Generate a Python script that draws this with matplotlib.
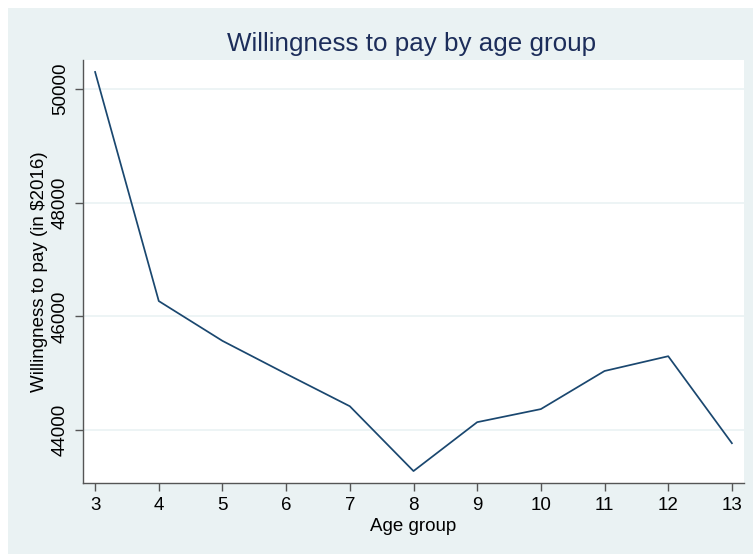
import matplotlib
matplotlib.use('Agg')
import matplotlib.pyplot as plt
from matplotlib.patches import Rectangle

# Willingness to pay (in $2016) by age group
age_groups = [3, 4, 5, 6, 7, 8, 9, 10, 11, 12, 13]
wtp = [50300, 46270, 45570, 44990, 44420, 43280, 44140, 44370, 45040, 45300, 43770]
y_ticks = [44000, 46000, 48000, 50000]

BG = '#EAF2F3'
LINE = '#1A476F'
TITLE = '#1C2D5A'
AXIS = '#555555'

plt.rcParams['font.family'] = ['Liberation Sans', 'DejaVu Sans']

W, H = 753, 554
fig = plt.figure(figsize=(W / 100, H / 100), dpi=100)
fig.patch.set_facecolor('white')
# outer panel, kept behind the axes
fig.patches.append(Rectangle((8 / W, 0), 1 - 8 / W, 1 - 8 / H,
                             transform=fig.transFigure, facecolor=BG,
                             edgecolor='none', zorder=-5))

ax = fig.add_axes([83 / W, 1 - 483 / H, (744 - 83) / W, (483 - 60) / H])
ax.set_zorder(2)
ax.set_facecolor('white')
ax.plot(age_groups, wtp, color=LINE, linewidth=1.25)

ax.set_xlim(2.81, 13.19)
ax.set_ylim(43070, 50510)
ax.set_xticks(age_groups)
ax.set_yticks(y_ticks)
ax.set_yticklabels([str(v) for v in y_ticks], rotation=90, va='center')
ax.grid(axis='y', color=BG, linewidth=1.2)
ax.set_axisbelow(True)

for s in ['top', 'right']:
    ax.spines[s].set_visible(False)
for s in ['left', 'bottom']:
    ax.spines[s].set_color(AXIS)
    ax.spines[s].set_linewidth(1.0)
ax.tick_params(colors='black', labelsize=13.5, length=6, width=1.0, color=AXIS, pad=4)

ax.set_xlabel('Age group', fontsize=13.5, labelpad=3)
ax.set_ylabel('Willingness to pay (in $2016)', fontsize=13.5, labelpad=3)

fig.text(412 / W, 1 - 44 / H, 'Willingness to pay by age group',
         ha='center', va='center', fontsize=18.7, color=TITLE)

fig.savefig('out.png', dpi=100)
